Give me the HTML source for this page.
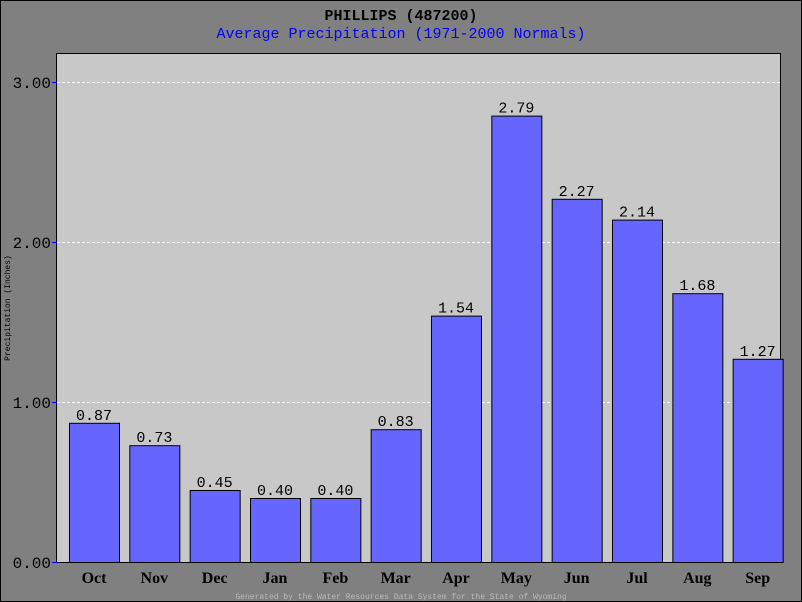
<!DOCTYPE html>
<html><head><meta charset="utf-8"><style>
body{margin:0;background:#808080}
svg{display:block}
</style></head><body>
<svg width="802" height="602" xmlns="http://www.w3.org/2000/svg">
<rect x="0.5" y="0.5" width="801" height="601" fill="#808080" stroke="#000"/>
<rect x="56.5" y="53.5" width="724" height="509" fill="#c8c8c8" stroke="#000"/>
<text x="401" y="20" text-anchor="middle" font-family="Liberation Mono, monospace" font-size="15" font-weight="bold">PHILLIPS (487200)</text>
<text x="401" y="38" text-anchor="middle" font-family="Liberation Mono, monospace" font-size="15" fill="#0000ff">Average Precipitation (1971-2000 Normals)</text>
<text transform="translate(10,308) rotate(-90)" text-anchor="middle" font-family="Liberation Mono, monospace" font-size="8">Precipitation (Inches)</text>
<text x="401" y="599" text-anchor="middle" font-family="Liberation Mono, monospace" font-size="8" fill="#bbbbbb">Generated by the Water Resources Data System for the State of Wyoming</text>
<g id="grid"></g><g id="bars"></g>
</svg>
<script>
const months=["Oct","Nov","Dec","Jan","Feb","Mar","Apr","May","Jun","Jul","Aug","Sep"];
const precip=[0.87,0.73,0.45,0.40,0.40,0.83,1.54,2.79,2.27,2.14,1.68,1.27];
const ticks=[0,1,2,3];
const NS="http://www.w3.org/2000/svg";
const y=v=>562-v*160;
const slot=724/12;
const x=i=>56+i*slot;
const grid=document.getElementById('grid'),bars=document.getElementById('bars');
function mk(tag,at,parent){const e=document.createElementNS(NS,tag);for(const k in at)e.setAttribute(k,at[k]);parent.appendChild(e);return e;}
ticks.forEach(t=>{
 if(t>0){const l=mk('line',{x1:57,x2:780,y1:y(t)+0.5,y2:y(t)+0.5,stroke:'#fff','stroke-dasharray':'3,2'},grid);
 
 }
 const tk=mk('line',{x1:52,x2:57,y1:y(t)+0.5,y2:y(t)+0.5,stroke:'#0000ff'},grid);
 
 
 const tx=mk('text',{x:51,y:y(t)+6,'text-anchor':'end','font-family':'Liberation Mono, monospace','font-size':'16'},grid);
 tx.textContent=t.toFixed(2);
 
 
});
precip.forEach((v,i)=>{
 const bx=x(i)+13;
 const r=mk('rect',{x:bx+0.5,y:y(v)+0.5,width:50,height:562-y(v),fill:'#6666ff',stroke:'#000'},bars);
 
 
 const t=mk('text',{x:bx+25,y:y(v)-3,'text-anchor':'middle','font-family':'Liberation Mono, monospace','font-size':'15'},bars);
 t.textContent=v.toFixed(2);
 
 
 const m=mk('text',{x:bx+25,y:583,'text-anchor':'middle','font-family':'Liberation Serif, serif','font-size':'16','font-weight':'bold'},bars);
 m.textContent=months[i];
 
 
});
</script>
</body></html>
